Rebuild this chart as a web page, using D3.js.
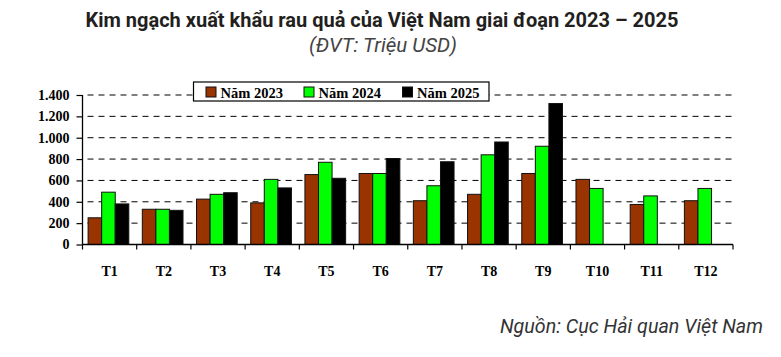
<!DOCTYPE html>
<html>
<head>
<meta charset="utf-8">
<script src="https://cdn.jsdelivr.net/npm/d3@7"></script>
<style>
  html, body { margin: 0; padding: 0; background: #fff; }
  svg { display: block; }
</style>
</head>
<body>
<svg id="chart" width="781" height="357"></svg>
<script>
const months = ["T1","T2","T3","T4","T5","T6","T7","T8","T9","T10","T11","T12"];
const years = ["Năm 2023","Năm 2024","Năm 2025"];
const values2023 = [250, 330, 425, 390, 655, 665, 410, 470, 665, 610, 375, 410];
const values2024 = [490, 330, 470, 610, 770, 665, 550, 840, 920, 525, 455, 525];
const values2025 = [380, 320, 485, 530, 620, 805, 775, 960, 1320, null, null, null];
const yTicks = [0, 200, 400, 600, 800, 1000, 1200, 1400];
const colors = ["#993300", "#00FF00", "#000000"];
const titleText = "Kim ngạch xuất khẩu rau quả của Việt Nam giai đoạn 2023 – 2025";
const subtitleText = "(ĐVT: Triệu USD)";
const sourceText = "Nguồn: Cục Hải quan Việt Nam";

const series = [values2023, values2024, values2025];

const svg = d3.select("#chart");
const plotLeft = 82.5, plotRight = 733, plotTop = 95, plotBottom = 244.5;

const x = d3.scaleBand().domain(months).range([plotLeft, plotRight]).padding(0);
const x1 = d3.scaleBand().domain(years).range([5.6, 46.3]).padding(0);
const y = d3.scaleLinear().domain([0, 1400]).range([plotBottom, plotTop]);

const loc = d3.formatLocale({decimal: ",", thousands: ".", grouping: [3], currency: ["", ""]});
const fmt = loc.format(",d");

// Title
svg.append("text")
  .attr("x", 382).attr("y", 26.5)
  .attr("text-anchor", "middle")
  .style("font-family", "Roboto, 'Noto Sans', sans-serif")
  .style("font-weight", "bold")
  .style("font-size", "20px")
  .style("fill", "#231f20")
  .text(titleText);

svg.append("text")
  .attr("x", 383).attr("y", 52)
  .attr("text-anchor", "middle")
  .style("font-family", "Roboto, 'Noto Sans', sans-serif")
  .style("font-style", "italic")
  .style("font-size", "20.5px")
  .style("fill", "#444")
  .text(subtitleText);

svg.append("text")
  .attr("x", 763).attr("y", 333)
  .attr("text-anchor", "end")
  .style("font-family", "Roboto, 'Noto Sans', sans-serif")
  .style("font-style", "italic")
  .style("font-size", "19.7px")
  .style("fill", "#333")
  .text(sourceText);

// Gridlines
svg.append("g")
  .selectAll("line")
  .data(yTicks.filter(d => d > 0))
  .join("line")
  .attr("x1", plotLeft).attr("x2", plotRight)
  .attr("y1", d => y(d)).attr("y2", d => y(d))
  .attr("stroke", "#000")
  .attr("stroke-width", 1)
  .attr("stroke-dasharray", "6,5")
  .attr("stroke-dashoffset", 6);

// Bars
const groups = svg.append("g")
  .selectAll("g")
  .data(months)
  .join("g")
  .attr("transform", d => `translate(${x(d)},0)`);

groups.selectAll("rect")
  .data((m, i) => years.map((yr, k) => ({yr, k, v: series[k][i]})).filter(d => d.v != null))
  .join("rect")
  .attr("x", d => x1(d.yr))
  .attr("width", x1.bandwidth())
  .attr("y", d => y(d.v))
  .attr("height", d => y(0) - y(d.v))
  .attr("fill", d => colors[d.k])
  .attr("stroke", "#111")
  .attr("stroke-width", 1);

// Y axis
const yAxis = svg.append("g")
  .attr("transform", `translate(${plotLeft},0)`)
  .call(d3.axisLeft(y).tickValues(yTicks).tickFormat(fmt).tickSize(6).tickPadding(7));
yAxis.select(".domain").attr("stroke", "#000").attr("stroke-width", 1.3).attr("d", `M0,${plotTop}V${plotBottom}`);
yAxis.selectAll(".tick line").attr("stroke", "#000").attr("stroke-width", 1.2);
yAxis.selectAll("text")
  .style("font-family", "'Liberation Serif', 'Times New Roman', serif")
  .style("font-weight", "bold")
  .style("font-size", "14px")
  .style("fill", "#000");

// X axis
const xAxis = svg.append("g")
  .attr("transform", `translate(0,${plotBottom})`)
  .call(d3.axisBottom(x).tickSize(0).tickPadding(22));
xAxis.select(".domain").attr("stroke", "#000").attr("stroke-width", 1.3).attr("d", `M${plotLeft},0H${plotRight}`);
xAxis.selectAll("text")
  .style("font-family", "'Liberation Serif', 'Times New Roman', serif")
  .style("font-weight", "bold")
  .style("font-size", "14px")
  .style("fill", "#000");
// category boundary ticks
svg.append("g")
  .selectAll("line")
  .data(months.map(m => x(m)).concat([plotRight]))
  .join("line")
  .attr("x1", d => d).attr("x2", d => d)
  .attr("y1", plotBottom).attr("y2", plotBottom + 5)
  .attr("stroke", "#000").attr("stroke-width", 1.2);

// Legend
const legend = svg.append("g");
legend.append("rect")
  .attr("x", 193.5).attr("y", 82)
  .attr("width", 295.5).attr("height", 19)
  .attr("fill", "#fff").attr("stroke", "#000").attr("stroke-width", 1.2);
const legX = [206, 304, 402.5];
years.forEach((yr, k) => {
  legend.append("rect")
    .attr("x", legX[k]).attr("y", 87).attr("width", 10).attr("height", 10)
    .attr("fill", colors[k]).attr("stroke", "#111").attr("stroke-width", 1);
  legend.append("text")
    .attr("x", legX[k] + 14.5).attr("y", 97.5)
    .style("font-family", "'Liberation Serif', 'Times New Roman', serif")
    .style("font-weight", "bold")
    .style("font-size", "14.5px")
    .style("fill", "#000")
    .text(yr);
});
</script>
</body>
</html>
